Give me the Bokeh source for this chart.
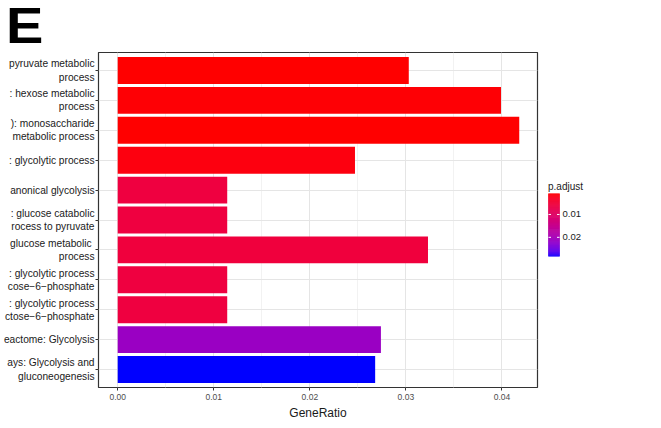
import numpy as np
from bokeh.plotting import figure
from bokeh.layouts import row, column
from bokeh.models import (ColumnDataSource, LinearColorMapper, FactorRange, Div,
                          Range1d, FixedTicker, NumeralTickFormatter)
from bokeh.core.properties import value
from bokeh.embed import file_html
from bokeh.resources import INLINE

# ---------------- data (top to bottom as in the chart) ----------------
terms = [
    "pyruvate metabolic\nprocess",
    ": hexose metabolic\nprocess",
    "): monosaccharide\nmetabolic process",
    ": glycolytic process",
    "anonical glycolysis",
    ": glucose catabolic\nrocess to pyruvate",
    " glucose metabolic\nprocess",
    ": glycolytic process\ncose\u22126\u2212phosphate",
    ": glycolytic process\nctose\u22126\u2212phosphate",
    "eactome: Glycolysis",
    "ays: Glycolysis and\ngluconeogenesis",
]
gene_ratio = [0.0303, 0.0399, 0.0418, 0.0247, 0.0114, 0.0114, 0.0323, 0.0114, 0.0114, 0.0274, 0.0268]
p_adjust = [0.0010, 0.0012, 0.0009, 0.0016, 0.0060, 0.0060, 0.0057, 0.0060, 0.0060, 0.0215, 0.0283]
x_ticks = [0.0, 0.01, 0.02, 0.03, 0.04]
x_minor_ticks = [0.005, 0.015, 0.025, 0.035]
legend_ticks = [0.01, 0.02]
panel_letter = "E"

# ---------------- colour palette: red -> blue interpolated in Lab ----------------
def srgb_to_lab(rgb):
    c = np.array(rgb, dtype=float) / 255.0
    c = np.where(c > 0.04045, ((c + 0.055) / 1.055) ** 2.4, c / 12.92)
    M = np.array([[0.4124, 0.3576, 0.1805], [0.2126, 0.7152, 0.0722], [0.0193, 0.1192, 0.9505]])
    xyz = M @ c / np.array([0.95047, 1.0, 1.08883])
    f = np.where(xyz > 0.008856, np.cbrt(xyz), 7.787 * xyz + 16 / 116)
    return np.array([116 * f[1] - 16, 500 * (f[0] - f[1]), 200 * (f[1] - f[2])])

def lab_to_hex(lab):
    L, a, b = lab
    fy = (L + 16) / 116
    fx = fy + a / 500
    fz = fy - b / 200
    f = np.array([fx, fy, fz])
    xyz = np.where(f ** 3 > 0.008856, f ** 3, (f - 16 / 116) / 7.787) * np.array([0.95047, 1.0, 1.08883])
    Mi = np.array([[3.2406, -1.5372, -0.4986], [-0.9689, 1.8758, 0.0415], [0.0557, -0.2040, 1.0570]])
    c = Mi @ xyz
    c = np.where(c > 0.0031308, 1.055 * np.clip(c, 0, None) ** (1 / 2.4) - 0.055, 12.92 * c)
    c = np.clip(np.round(c * 255), 0, 255).astype(int)
    return "#%02x%02x%02x" % tuple(c)

lab_lo = srgb_to_lab((255, 0, 0))
lab_hi = srgb_to_lab((0, 0, 255))
palette = [lab_to_hex(lab_lo + (lab_hi - lab_lo) * t) for t in np.linspace(0, 1, 256)]

lo, hi = min(p_adjust), max(p_adjust)
mapper = LinearColorMapper(palette=palette, low=lo, high=hi)

FONT = "Liberation Sans"
FIG_H = 370
BOTTOM = 33

# ---------------- main figure ----------------
factors = terms[::-1]
src = ColumnDataSource(dict(term=terms, ratio=gene_ratio, padj=p_adjust))

p = figure(width=540, height=FIG_H, output_backend="svg", toolbar_location=None,
           y_range=FactorRange(factors=factors, range_padding=0.2 / len(terms)),
           x_range=Range1d(-0.0020, 0.0437),
           min_border_left=94, min_border_right=3, min_border_top=0, min_border_bottom=BOTTOM)
p.background_fill_color = "white"
p.border_fill_color = "white"
p.outline_line_color = "#333333"
p.outline_line_width = 1.2

p.hbar(y="term", left=0, right="ratio", height=0.9, source=src,
       fill_color={"field": "padj", "transform": mapper}, line_color=None)

p.xaxis.ticker = FixedTicker(ticks=x_ticks, minor_ticks=x_minor_ticks)
p.xaxis.formatter = NumeralTickFormatter(format="0.00")
p.xaxis.axis_label = "GeneRatio"
p.xaxis.axis_label_text_font = FONT
p.xaxis.axis_label_text_font_style = "normal"
p.xaxis.axis_label_text_font_size = "12px"
p.xaxis.axis_label_text_color = "#1a1a1a"
p.xaxis.axis_label_standoff = 3
p.xaxis.major_label_text_font = FONT
p.xaxis.major_label_text_font_size = "8.5px"
p.xaxis.major_label_text_color = "#4d4d4d"
p.xaxis.major_label_standoff = 2

for ax in (p.xaxis, p.yaxis):
    ax.axis_line_color = None
    ax.minor_tick_line_color = None
    ax.major_tick_line_color = "#333333"
    ax.major_tick_in = 0
    ax.major_tick_out = 3

p.yaxis.major_label_text_font = FONT
p.yaxis.major_label_text_font_size = "10.2px"
p.yaxis.major_label_text_color = "#1a1a1a"
p.yaxis.major_label_standoff = 1

p.xgrid.grid_line_color = "#e5e5e5"
p.xgrid.minor_grid_line_color = "#f2f2f2"
p.ygrid.grid_line_color = "#e5e5e5"

# ---------------- colour-bar legend (small p.adjust on top) ----------------
LEG_W = 100
frame_h = FIG_H - BOTTOM
bar_top_px, bar_len_px = 142, 63           # bar position inside the legend frame
k = bar_len_px / (hi - lo)                  # pixels per p.adjust unit
y_top = lo - bar_top_px / k
y_bot = hi + (frame_h - bar_top_px - bar_len_px) / k

leg = figure(width=LEG_W, height=FIG_H, output_backend="svg", toolbar_location=None,
             x_range=Range1d(0, LEG_W), y_range=Range1d(y_bot, y_top),
             x_axis_location=None, y_axis_location=None,
             min_border_left=0, min_border_right=0, min_border_top=0, min_border_bottom=BOTTOM)
leg.outline_line_color = None
leg.grid.grid_line_color = None
leg.background_fill_color = "white"
leg.border_fill_color = "white"

n_steps = 64
edges = np.linspace(lo, hi, n_steps + 1)
leg_src = ColumnDataSource(dict(bottom=edges[:-1], top=edges[1:], mid=(edges[:-1] + edges[1:]) / 2))
BX0, BX1 = 8, 19
leg.quad(left=BX0, right=BX1, bottom="bottom", top="top", source=leg_src,
         fill_color={"field": "mid", "transform": mapper},
         line_color={"field": "mid", "transform": mapper}, line_width=0.6)

tick_src = ColumnDataSource(dict(y=legend_ticks, lab=["%.2f" % t for t in legend_ticks]))
leg.segment(x0=BX0, x1=BX0 + 2.5, y0="y", y1="y", source=tick_src, line_color="white", line_width=1)
leg.segment(x0=BX1 - 2.5, x1=BX1, y0="y", y1="y", source=tick_src, line_color="white", line_width=1)
leg.text(x=BX1 + 3, y="y", text="lab", source=tick_src, text_font=value(FONT),
         text_font_size="9.5px", text_color="#1a1a1a", text_baseline="middle", text_align="left")
leg.text(x=[BX0 - 0.5], y=[lo - 2 / k], text=["p.adjust"], text_font=value(FONT),
         text_font_size="10px", text_color="#1a1a1a", text_baseline="bottom", text_align="left")

# ---------------- panel letter ----------------
letter = Div(text='<div style="display:inline-block;font-family:\'Liberation Sans\',Arial,sans-serif;'
                  'font-weight:bold;font-size:50px;line-height:42px;height:42px;margin:0 0 0 1px;padding:0;'
                  'color:black;transform:scaleX(1.12);transform-origin:0 0;">%s</div>' % panel_letter,
             width=540 + LEG_W, height=42)

layout = column(letter, row(p, leg))
open("out.html", "w").write(file_html(layout, INLINE))
